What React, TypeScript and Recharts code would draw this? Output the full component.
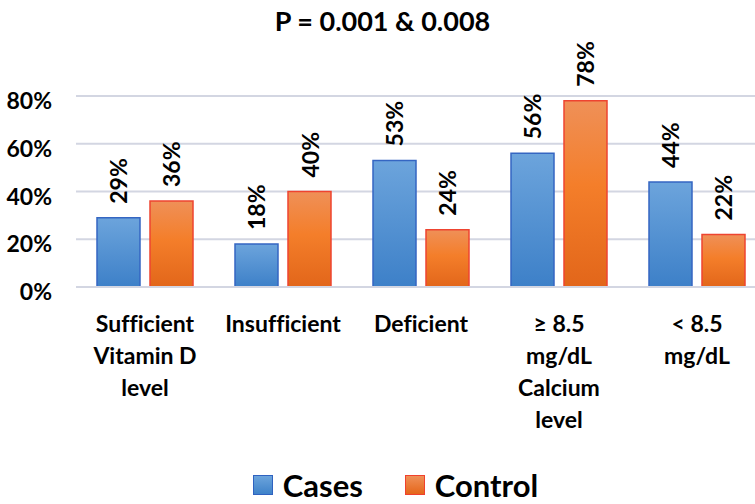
import { BarChart, Bar, XAxis, YAxis, CartesianGrid, Legend, LabelList } from 'recharts';

const categories = [
  ['Sufficient', 'Vitamin D', 'level'],
  ['Insufficient'],
  ['Deficient'],
  ['≥ 8.5', 'mg/dL', 'Calcium', 'level'],
  ['< 8.5', 'mg/dL'],
];
const cases = [29, 18, 53, 56, 44];
const control = [36, 40, 24, 78, 22];
const yTicks = [0, 20, 40, 60, 80];

const FONT = 'Lato, "Open Sans", sans-serif';
const GRID = '#D3D6E2';
const noLig = { fontVariantLigatures: 'none' as const };

const data = categories.map((lines, i) => ({
  name: lines.join(' '),
  lines,
  Cases: cases[i],
  Control: control[i],
}));

const XTick = ({ x, y, index }: any) => {
  const lines = categories[index] ?? [];
  return (
    <g>
      {lines.map((line, i) => (
        <text
          key={i}
          x={x}
          y={y + 45 + i * 32}
          textAnchor="middle"
          fontFamily={FONT}
          fontWeight={700}
          fontSize={23}
          fill="#000"
          style={noLig}
        >
          {line}
        </text>
      ))}
    </g>
  );
};

const YTick = ({ x, y, payload }: any) => (
  <text x={x} y={y + 13} textAnchor="end" fontFamily={FONT} fontWeight={700} fontSize={23} fill="#000">
    {payload.value}%
  </text>
);

// value labels sit above each bar, rotated to read bottom-to-top
const renderLabel = (props: any) => {
  const { x, y, width, value } = props;
  const cx = x + width / 2;
  const ty = y - 14;
  return (
    <text
      x={cx}
      y={ty}
      transform={`rotate(-90, ${cx}, ${ty})`}
      textAnchor="start"
      dominantBaseline="central"
      fontFamily={FONT}
      fontWeight={700}
      fontSize={23}
      fill="#000"
    >
      {value}%
    </text>
  );
};

const LegendContent = () => (
  <div style={{ display: 'flex', justifyContent: 'center', fontFamily: FONT, fontWeight: 700, fontSize: 31 }}>
    <div style={{ display: 'flex', alignItems: 'center', marginRight: 42 }}>
      <span style={{ width: 18, height: 18, background: 'linear-gradient(#6CA4DC, #3F82C9)', border: '1px solid #2F62C0', marginRight: 10 }} />
      <span>Cases</span>
    </div>
    <div style={{ display: 'flex', alignItems: 'center' }}>
      <span style={{ width: 18, height: 18, background: 'linear-gradient(#EF9058, #E5661A)', border: '1px solid #F0412D', marginRight: 10 }} />
      <span>Control</span>
    </div>
  </div>
);

export default function App() {
  return (
    <div style={{ position: 'fixed', left: 0, top: 0, width: 755, height: 504, overflow: 'hidden', background: '#fff' }}>
      <div
        style={{
          position: 'absolute',
          top: 4,
          left: 0,
          width: 765,
          textAlign: 'center',
          fontFamily: FONT,
          fontWeight: 700,
          fontSize: 27,
        }}
      >
        P = 0.001 &amp; 0.008
      </div>
      <BarChart
        width={766}
        height={504}
        data={data}
        margin={{ top: 96, right: 0, left: 0, bottom: 0 }}
        barSize={43}
        barGap={10}
      >
        <defs>
          <linearGradient id="casesGrad" x1="0" y1="0" x2="0" y2="1">
            <stop offset="0%" stopColor="#6CA4DC" />
            <stop offset="100%" stopColor="#3D80C8" />
          </linearGradient>
          <linearGradient id="controlGrad" x1="0" y1="0" x2="0" y2="1">
            <stop offset="0%" stopColor="#EF9058" />
            <stop offset="45%" stopColor="#F47E2A" />
            <stop offset="100%" stopColor="#E2661A" />
          </linearGradient>
        </defs>
        <CartesianGrid vertical={false} stroke={GRID} strokeWidth={2} />
        <XAxis
          dataKey="name"
          height={217}
          axisLine={{ stroke: GRID, strokeWidth: 2 }}
          tickLine={false}
          tickSize={0}
          tickMargin={0}
          interval={0}
          tick={<XTick />}
        />
        <YAxis
          width={76}
          domain={[0, 80]}
          ticks={yTicks}
          axisLine={false}
          tickLine={false}
          tickSize={0}
          tickMargin={24}
          tick={<YTick />}
        />
        <Legend
          verticalAlign="middle"
          align="center"
          content={<LegendContent />}
          wrapperStyle={{ top: 466, left: 18, width: 755, height: 40 }}
        />
        <Bar dataKey="Cases" fill="url(#casesGrad)" stroke="#3566C2" strokeWidth={1.5} isAnimationActive={false}>
          <LabelList dataKey="Cases" content={renderLabel} />
        </Bar>
        <Bar dataKey="Control" fill="url(#controlGrad)" stroke="#EE4430" strokeWidth={1.5} isAnimationActive={false}>
          <LabelList dataKey="Control" content={renderLabel} />
        </Bar>
      </BarChart>
    </div>
  );
}
